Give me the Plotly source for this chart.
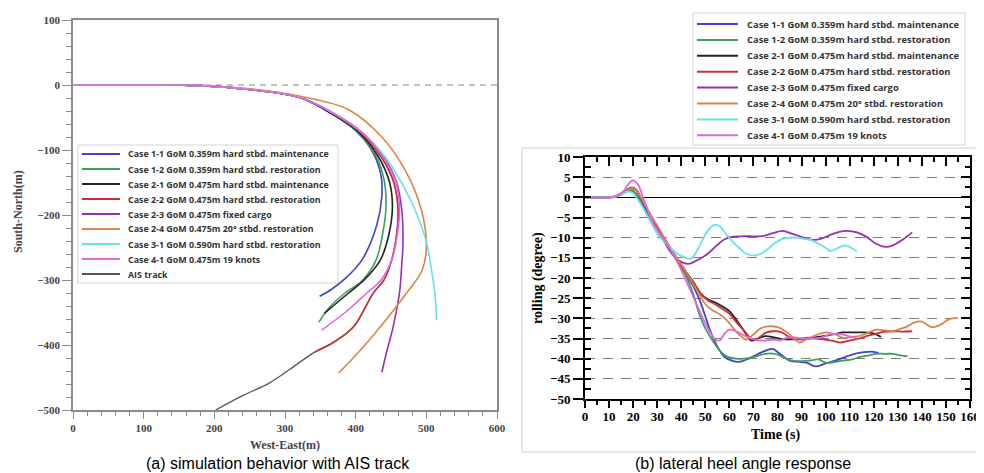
import plotly.graph_objects as go

W, H = 976, 473
OFF = 8  # page body margin of the browser

# ---------------- data: (a) trajectories ----------------
names = [
    "Case 1-1 GoM 0.359m hard stbd. maintenance",
    "Case 1-2 GoM 0.359m hard stbd. restoration",
    "Case 2-1 GoM 0.475m hard stbd. maintenance",
    "Case 2-2 GoM 0.475m hard stbd. restoration",
    "Case 2-3 GoM 0.475m fixed cargo",
    "Case 2-4 GoM 0.475m 20\u00b0 stbd. restoration",
    "Case 3-1 GoM 0.590m hard stbd. restoration",
    "Case 4-1 GoM 0.475m 19 knots",
]
ais_name = "AIS track"
colors = ["#4444c4", "#3f9f5f", "#222222", "#c83034", "#9a2cb8", "#dc8448", "#66e4e4", "#e266e2"]
ais_color = "#555555"

c11_x = [0, 100, 180, 250, 320, 366, 400, 425, 436, 437, 430, 409, 385, 365, 349]
c11_y = [0, 0, -1, -7, -19, -44, -70, -105, -140, -172, -215, -269, -298, -315, -325]
c12_x = [0, 100, 180, 250, 320, 366, 402, 428, 440, 443, 438, 429, 410, 385, 362, 348]
c12_y = [0, 0, -1, -7, -19, -44, -72, -108, -145, -187, -230, -269, -300, -320, -343, -365]
c21_x = [0, 100, 180, 250, 320, 366, 404, 432, 448, 452, 447, 435, 412, 390, 368, 356]
c21_y = [0, 0, -1, -7, -19, -44, -72, -110, -150, -187, -230, -269, -300, -320, -340, -351]
c22_x = [0, 100, 180, 250, 320, 368, 408, 437, 454, 460, 458, 451, 440, 425, 397, 370, 342]
c22_y = [0, 0, -1, -7, -19, -44, -74, -112, -150, -192, -230, -269, -300, -320, -372, -395, -411]
c23_x = [0, 100, 180, 250, 320, 368, 410, 441, 458, 465, 467, 465, 462, 453, 444, 437]
c23_y = [0, 0, -1, -7, -19, -43, -74, -113, -150, -190, -240, -280, -320, -372, -410, -442]
c24_x = [0, 100, 180, 250, 320, 390, 437, 470, 493, 500, 494, 472, 435, 405, 376]
c24_y = [0, 0, -1, -6, -17, -38, -80, -131, -192, -249, -285, -320, -372, -410, -443]
c31_x = [0, 100, 180, 250, 320, 368, 410, 440, 460, 484, 500, 505, 512, 514.5]
c31_y = [0, 0, -1, -7, -19, -43, -74, -108, -141, -192, -241, -269, -320, -362]
c41_x = [0, 100, 180, 250, 320, 368, 410, 440, 457, 462, 459, 451, 436, 416, 385, 352]
c41_y = [0, 0, -1, -7, -19, -43, -74, -113, -150, -187, -230, -269, -300, -320, -350, -377]
ais_x = [0, 100, 180, 250, 320, 368, 408, 437, 454, 460, 458, 451, 440, 425, 397, 370, 342, 306, 277, 240, 202]
ais_y = [0, 0, -1, -7, -19, -44, -74, -112, -150, -192, -230, -269, -300, -320, -372, -395, -411, -438, -459, -478, -500]

traj_x = [c11_x, c12_x, c21_x, c22_x, c23_x, c24_x, c31_x, c41_x]
traj_y = [c11_y, c12_y, c21_y, c22_y, c23_y, c24_y, c31_y, c41_y]

# ---------------- data: (b) rolling ----------------
t11 = [0, 10, 13, 16, 18, 20, 23, 27, 31, 35, 38, 42, 45, 48, 50, 52, 55, 58, 61, 64, 68, 72, 76, 78, 81, 85, 89, 92, 96, 100, 104, 108, 112, 116, 120, 122]
r11 = [0, 0, 0.2, 1.0, 1.6, 1.5, -1, -5, -9, -13, -15.5, -19, -22, -26, -29.5, -33, -37, -39.6, -40.5, -40.8, -40, -38.8, -37.8, -37.6, -38.8, -40.5, -40.8, -41, -41.9, -41.2, -40.5, -39.6, -38.8, -38.4, -38.3, -38.6]
t12 = [0, 10, 13, 16, 18, 20, 23, 27, 31, 35, 38, 42, 45, 47.5, 50, 53, 56, 59, 63, 66, 70, 75, 79, 83, 86, 90, 93, 97, 100, 104, 107, 111, 114, 118, 121, 125, 128, 131, 134]
r12 = [0, 0, 0.2, 1.0, 1.7, 1.6, -0.8, -5, -9, -13, -15.5, -19.5, -24, -29, -32.5, -35.5, -38, -39.5, -40, -40, -39.6, -38.8, -38.8, -39.8, -40.5, -40.6, -40.5, -40.2, -41, -40.8, -40.5, -40.2, -39.6, -39.2, -38.8, -38.8, -38.8, -39.2, -39.4]
t21 = [0, 10, 13, 16, 19, 21, 23, 27, 31, 35, 38, 42, 45, 48, 51, 54, 57, 60, 63, 66, 69, 72, 75, 79, 83, 87, 91, 95, 99, 103, 107, 111, 115, 119, 121, 123]
r21 = [0, 0, 0.3, 1.3, 2.3, 2.0, 0, -4.5, -8.5, -12.5, -15, -18.5, -21, -23.8, -25.3, -26, -27, -28.2, -30.5, -33, -35.5, -35, -34.4, -34.8, -35.2, -35.2, -35.2, -34.8, -34.4, -34, -33.5, -33.5, -33.5, -33.6, -34, -34.6]
t22 = [0, 10, 13, 16, 19, 21, 23, 27, 31, 35, 38, 42, 45, 48, 51, 54, 57, 60, 63, 66, 69, 71, 73, 75, 78, 81, 84, 87, 90, 93, 96, 99, 103, 106, 110, 114, 117, 120, 123, 126, 129, 132, 136]
r22 = [0, 0, 0.3, 1.3, 2.4, 2.1, 0.2, -4.3, -8.3, -12.3, -15, -18.5, -21, -23.8, -25.5, -26.5, -27.6, -28.8, -31, -33, -35, -35.3, -34.5, -33.6, -33.2, -33.3, -34.3, -35.2, -35, -34.8, -35, -35.2, -35.6, -36, -35.5, -35, -34.4, -34, -33.5, -33.3, -33.2, -33.3, -33.2]
t23 = [0, 10, 13, 16, 19, 21, 23, 27, 31, 34, 37, 40, 43, 46, 49, 52, 55, 58, 61, 64, 67, 70, 74, 78, 82, 86, 90, 94, 98, 102, 106, 109, 113, 117, 121, 125, 128, 132, 136]
r23 = [0, 0, 0.3, 1.2, 2.2, 1.9, 0, -4.3, -8.6, -11.8, -14.5, -16.0, -16.5, -15.8, -14.8, -13.5, -11.8, -10.4, -9.8, -9.7, -9.6, -9.7, -9.6, -8.9, -8.3, -9, -9.8, -10.5, -10.3, -9.3, -8.5, -8.3, -8.7, -9.8, -11.5, -12.3, -11.9, -10.5, -8.7]
t24 = [0, 10, 13, 16, 19, 21, 23, 27, 31, 35, 38, 42, 45, 48, 50, 53, 56, 59, 61, 64, 67, 70, 73, 76, 80, 84, 87, 89, 92, 95, 100, 104, 107, 111, 114, 118, 121, 125, 128, 131, 134, 137, 140, 144, 148, 151, 155]
r24 = [0, 0, 0.3, 1.2, 2.2, 2.0, 0.2, -4, -8, -12, -14.8, -18.5, -21.5, -24.5, -26.5, -28, -29, -30.5, -32, -34, -35.3, -34, -32.5, -32, -32.2, -33.5, -35, -36, -35.2, -34.4, -33.5, -34, -34.8, -34.6, -34.4, -33.5, -32.8, -33, -33.2, -32.6, -32, -31, -30.8, -32.2, -31.5, -30.3, -29.9]
t31 = [0, 10, 13, 16, 18, 20, 22, 24, 27, 30, 33, 36, 39, 42, 44, 46, 48, 50, 52, 54, 56, 58, 61, 64, 67, 70, 73, 76, 79, 82, 85, 88, 91, 94, 97, 100, 102, 104, 106, 108, 110, 113]
r31 = [0, 0, 0.2, 1.0, 1.5, 1.0, -0.6, -2.5, -5.8, -9, -11, -12.8, -14.2, -15, -15.2, -13.8, -11.5, -9.2, -7.6, -6.8, -7.2, -8.6, -10.8, -12.5, -14, -14.4, -14, -12.8, -11.3, -10.3, -10, -10, -10.3, -10.6, -11.5, -12.5, -13.3, -12.9, -12.3, -11.9, -12.3, -13.5]
t41 = [0, 10, 13, 16, 18, 20, 22, 25, 28, 31, 34, 37, 40, 43, 46, 49, 52, 54, 56, 58, 60, 63, 66, 69, 72, 75, 78, 81, 84, 87, 90, 94, 98, 102, 106, 110, 113]
r41 = [0, 0, 0.3, 1.5, 3.3, 4.2, 3.2, -1.5, -6, -9, -11.5, -14.5, -18, -22, -26, -30, -33.5, -35.2, -35.5, -33.8, -32.8, -33.3, -34.2, -35, -35.5, -35.5, -35.3, -35.5, -34.8, -34.7, -35, -35.1, -34.8, -34, -33.9, -34.5, -35]

roll_t = [t11, t12, t21, t22, t23, t24, t31, t41]
roll_r = [r11, r12, r21, r22, r23, r24, r31, r41]

# ---------------- helpers (window pixel -> paper) ----------------
def px(x):
    return (x - OFF) / W

def py(y):
    return 1 - (y - OFF) / H

fig = go.Figure()

# (a) trajectories
fig.add_trace(go.Scatter(x=ais_x, y=ais_y, mode="lines", name=ais_name, showlegend=False,
                         line=dict(color=ais_color, width=1.3, shape="spline"), xaxis="x", yaxis="y"))
for xs, ys, c, n in zip(traj_x, traj_y, colors, names):
    fig.add_trace(go.Scatter(x=xs, y=ys, mode="lines", name=n, showlegend=False,
                             line=dict(color=c, width=1.6, shape="spline"), xaxis="x", yaxis="y"))

# (b) rolling
for ts, rs, c, n in zip(roll_t, roll_r, colors, names):
    fig.add_trace(go.Scatter(x=ts, y=rs, mode="lines", name=n, showlegend=False,
                             line=dict(color=c, width=1.8, shape="spline"), xaxis="x2", yaxis="y2"))

# empty traces to anchor overlay axes
fig.add_trace(go.Scatter(x=[], y=[], xaxis="x3", yaxis="y2", showlegend=False))
fig.add_trace(go.Scatter(x=[], y=[], xaxis="x2", yaxis="y3", showlegend=False))
fig.add_trace(go.Scatter(x=[], y=[], xaxis="x2", yaxis="y4", showlegend=False))

serif_gray = dict(family="Liberation Serif", size=11, color="#444444", weight="bold")
serif_blk = dict(family="Liberation Serif", size=13, color="#000000", weight="bold")

dom_ax = [px(73), px(497)]
dom_ay = [py(410), py(20)]
dom_bx = [px(585), px(970)]
dom_by = [py(399), py(157)]

fig.update_layout(
    width=W, height=H, margin=dict(l=0, r=0, t=0, b=0),
    paper_bgcolor="white", plot_bgcolor="white", showlegend=False,
    xaxis=dict(domain=dom_ax, anchor="y", range=[0, 600], dtick=100, showgrid=False, zeroline=False,
               showline=True, linecolor="#8c8c8c", linewidth=1.5, mirror=True,
               ticks="outside", ticklen=7, tickcolor="#8c8c8c", tickwidth=1,
               minor=dict(dtick=20, ticks="outside", ticklen=4, tickcolor="#8c8c8c", showgrid=False),
               tickfont=serif_gray, automargin=False),
    yaxis=dict(domain=dom_ay, anchor="x", range=[-500, 100], dtick=100, showgrid=False, zeroline=False,
               showline=True, linecolor="#8c8c8c", linewidth=1.5, mirror=True,
               ticks="outside", ticklen=9, tickcolor="#8c8c8c", tickwidth=1,
               minor=dict(dtick=20, ticks="outside", ticklen=5, tickcolor="#8c8c8c", showgrid=False),
               tickfont=serif_gray, automargin=False),
    xaxis2=dict(domain=dom_bx, anchor="y2", range=[0, 160], dtick=10, showgrid=False, zeroline=False,
                showline=True, linecolor="black", linewidth=1.8,
                ticks="outside", ticklen=7, tickcolor="black", tickwidth=1.8,
                minor=dict(dtick=5, ticks="outside", ticklen=4, tickcolor="black", tickwidth=1.8, showgrid=False),
                tickfont=serif_blk, ticklabelstandoff=-3, automargin=False),
    yaxis2=dict(domain=dom_by, anchor="x2", range=[-50, 10], dtick=5, showgrid=True,
                gridcolor="#7c7c7c", griddash="10px,8px", gridwidth=1.4,
                zeroline=True, zerolinecolor="black", zerolinewidth=1.3,
                showline=True, linecolor="black", linewidth=1.8,
                ticks="outside", ticklen=10, tickcolor="black", tickwidth=1.8,
                tickfont=serif_blk, automargin=False),
    xaxis3=dict(overlaying="x2", anchor="y2", side="top", range=[0, 160], dtick=10,
                showgrid=False, zeroline=False, showticklabels=False,
                showline=True, linecolor="black", linewidth=1.8,
                ticks="inside", ticklen=9, tickcolor="black", tickwidth=1.8,
                minor=dict(dtick=5, ticks="inside", ticklen=5, tickcolor="black", tickwidth=1.8, showgrid=False)),
    yaxis3=dict(overlaying="y2", anchor="x2", side="right", range=[-50, 10], dtick=5,
                showgrid=False, zeroline=False, showticklabels=False,
                showline=True, linecolor="black", linewidth=1.8,
                ticks="inside", ticklen=9, tickcolor="black", tickwidth=1.8,
                minor=dict(dtick=2.5, ticks="inside", ticklen=5, tickcolor="black", tickwidth=1.8, showgrid=False)),
    yaxis4=dict(overlaying="y2", anchor="x2", side="left", range=[-50, 10], dtick=2.5,
                showgrid=False, zeroline=False, showticklabels=False, showline=False,
                ticks="inside", ticklen=6, tickcolor="black", tickwidth=1.8),
)

shapes = []
annotations = []

# dashed reference line at y=0 in panel (a)
shapes.append(dict(type="line", xref="x domain", yref="y", x0=0, x1=1, y0=0, y1=0,
                   line=dict(color="#8a8a8a", width=1, dash="6px,5px"), layer="below"))

# panel (b) outer frame
shapes.append(dict(type="rect", xref="paper", yref="paper", x0=px(522), x1=px(1000), y0=py(452), y1=py(148),
                   line=dict(color="#d0d0d0", width=1), layer="below"))

# legend (a)
legA_names = names + [ais_name]
legA_colors = colors + [ais_color]
shapes.append(dict(type="rect", xref="paper", yref="paper", x0=px(78), x1=px(338), y0=py(283), y1=py(145),
                   line=dict(color="#d4d4d4", width=1), fillcolor="white"))
for i, (n, c) in enumerate(zip(legA_names, legA_colors)):
    yy = py(154 + 15.0 * i)
    shapes.append(dict(type="line", xref="paper", yref="paper", x0=px(82), x1=px(120), y0=yy, y1=yy,
                       line=dict(color=c, width=2)))
    annotations.append(dict(xref="paper", yref="paper", x=px(126), y=yy, text=n, showarrow=False,
                            xanchor="left", yanchor="middle",
                            font=dict(family="Open Sans", size=8.9, color="#333333", weight="bold")))

# legend (b)
shapes.append(dict(type="rect", xref="paper", yref="paper", x0=px(693), x1=px(965), y0=py(145), y1=py(13),
                   line=dict(color="#d4d4d4", width=1), fillcolor="white"))
for i, (n, c) in enumerate(zip(names, colors)):
    yy = py(24 + 15.9 * i)
    shapes.append(dict(type="line", xref="paper", yref="paper", x0=px(697), x1=px(738), y0=yy, y1=yy,
                       line=dict(color=c, width=2)))
    annotations.append(dict(xref="paper", yref="paper", x=px(745), y=yy, text=n, showarrow=False,
                            xanchor="left", yanchor="middle",
                            font=dict(family="Open Sans", size=9.4, color="#333333", weight="bold")))

# axis titles and captions
annotations += [
    dict(xref="paper", yref="paper", x=px(18), y=py(212), text="South-North(m)", textangle=-90, showarrow=False,
         xanchor="center", yanchor="middle", font=dict(family="Liberation Serif", size=12, color="#444444", weight="bold")),
    dict(xref="paper", yref="paper", x=px(285), y=py(445), text="West-East(m)", showarrow=False,
         xanchor="center", yanchor="middle", font=dict(family="Liberation Serif", size=12, color="#444444", weight="bold")),
    dict(xref="paper", yref="paper", x=px(538), y=py(278), text="rolling (degree)", textangle=-90, showarrow=False,
         xanchor="center", yanchor="middle", font=dict(family="Liberation Serif", size=14, color="#000000", weight="bold")),
    dict(xref="paper", yref="paper", x=px(775), y=py(435), text="Time (s)", showarrow=False,
         xanchor="center", yanchor="middle", font=dict(family="Liberation Serif", size=14, color="#000000", weight="bold")),
    dict(xref="paper", yref="paper", x=px(278), y=py(463), text="(a) simulation behavior with AIS track", showarrow=False,
         xanchor="center", yanchor="middle", font=dict(family="Liberation Sans", size=16, color="#000000")),
    dict(xref="paper", yref="paper", x=px(743), y=py(463), text="(b) lateral heel angle response", showarrow=False,
         xanchor="center", yanchor="middle", font=dict(family="Liberation Sans", size=16, color="#000000")),
]

fig.update_layout(shapes=shapes, annotations=annotations)
fig.write_html("out.html")
